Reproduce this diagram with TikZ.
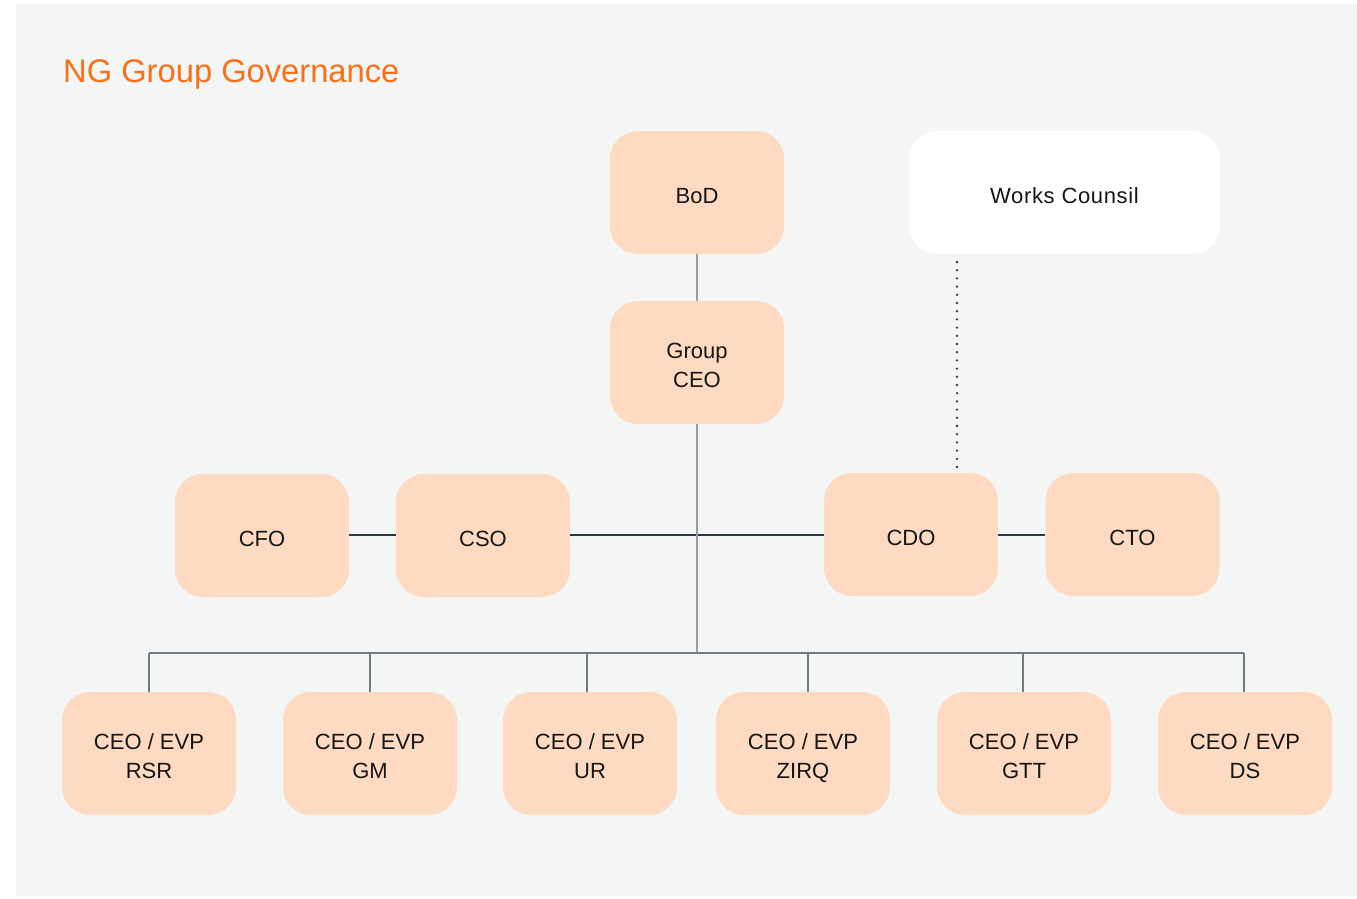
\documentclass[tikz,border=0pt]{standalone}
\usepackage{fontspec}
\setmainfont{Liberation Sans}
\definecolor{bgc}{HTML}{F4F5F5}
\definecolor{boxc}{HTML}{FDDAC1}
\definecolor{titlec}{HTML}{F97018}
\definecolor{txtc}{HTML}{161616}
\definecolor{busc}{HTML}{727884}
\definecolor{stemc}{HTML}{9A9DA5}
\definecolor{navyc}{HTML}{2E3648}
\begin{document}
\begin{tikzpicture}[x=1pt,y=-1pt,
  orgbox/.style={rectangle, rounded corners=28pt, fill=boxc, draw=none,
    minimum width=174pt, minimum height=123pt, inner sep=0pt},
  wbox/.style={orgbox, fill=white, minimum width=311pt},
  txt/.style={inner sep=0pt, text depth=0pt, text=txtc, align=center,
    font=\fontsize{22}{29}\selectfont},
  wtxt/.style={txt, font=\fontsize{22}{29}\selectfont\addfontfeatures{LetterSpace=3}},
  stem/.style={draw=stemc, line width=2pt},
  bus/.style={draw=busc, line width=1.6pt},
  side/.style={draw=navyc, line width=1.2pt},
  dots/.style={draw=navyc, line width=2.6pt, line cap=round, dash pattern=on 0pt off 8.2pt}]
\useasboundingbox (0,0) rectangle (1357,898);
\fill[white] (0,0) rectangle (1357,898);
\fill[bgc] (16,4) rectangle (1357,896);
\node[anchor=base west, inner sep=0pt, text=titlec, font=\fontsize{32.7}{38}\selectfont] (title) at (63,82) {NG Group Governance};

\node[orgbox] (bod) at (697,192.5) {};
\node[wbox] (wc) at (1064.5,192.5) {};
\node[orgbox] (gceo) at (697,362.5) {};
\node[orgbox] (cfo) at (262,535.5) {};
\node[orgbox] (cso) at (483,535.5) {};
\node[orgbox] (cdo) at (911,534.5) {};
\node[orgbox] (cto) at (1132.5,534.5) {};
\node[orgbox] (rsr) at (149,753.5) {};
\node[orgbox] (gm) at (370,753.5) {};
\node[orgbox] (ur) at (590,753.5) {};
\node[orgbox] (zirq) at (803,753.5) {};
\node[orgbox] (gtt) at (1024,753.5) {};
\node[orgbox] (ds) at (1245,753.5) {};

\node[txt] (bodt) at ([yshift=-3.5pt]bod.center) {BoD};
\node[wtxt] (wct) at ([yshift=-3.5pt]wc.center) {Works Counsil};
\node[txt] (gceot) at ([yshift=-3pt]gceo.center) {Group\\CEO};
\node[txt] (cfot) at ([yshift=-3pt]cfo.center) {CFO};
\node[txt] (csot) at ([yshift=-3pt]cso.center) {CSO};
\node[txt] (cdot) at ([yshift=-3pt]cdo.center) {CDO};
\node[txt] (ctot) at ([yshift=-3pt]cto.center) {CTO};
\node[txt] (rsrt) at ([yshift=-3pt]rsr.center) {CEO / EVP\\RSR};
\node[txt] (gmt) at ([yshift=-3pt]gm.center) {CEO / EVP\\GM};
\node[txt] (urt) at ([yshift=-3pt]ur.center) {CEO / EVP\\UR};
\node[txt] (zirqt) at ([yshift=-3pt]zirq.center) {CEO / EVP\\ZIRQ};
\node[txt] (gttt) at ([yshift=-3pt]gtt.center) {CEO / EVP\\GTT};
\node[txt] (dst) at ([yshift=-3pt]ds.center) {CEO / EVP\\DS};

\coordinate (j) at (697,653);
\coordinate (jl) at (149,653);
\coordinate (jr) at (1244,653);
\coordinate (mid) at (697,535);
\coordinate (dtop) at (957,262);
\coordinate (dbot) at (957,468);

% horizontal side links
\draw[side] (cso.east |- mid) -- (cdo.west |- mid);
\draw[side] (cfo.east |- mid) -- (cso.west |- mid);
\draw[side] (cdo.east |- mid) -- (cto.west |- mid);
% stems
\draw[stem] (bod.south) -- (gceo.north);
\draw[stem] (gceo.south) -- (j);
% bus
\draw[bus] (jl) -- (jr);
\draw[bus] (jl) -- (rsr.north);
\draw[bus] (370,653) -- (gm.north);
\draw[bus] (587,653) -- (587,692);
\draw[bus] (808,653) -- (808,692);
\draw[bus] (1023,653) -- (1023,692);
\draw[bus] (jr) -- (1244,692);
% dotted
\draw[dots] (dtop) -- (dbot);
\end{tikzpicture}
\end{document}
